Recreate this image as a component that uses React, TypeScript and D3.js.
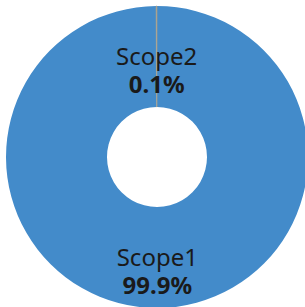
import { useEffect, useRef } from "react";
import * as d3 from "d3";

const categories = ["Scope1", "Scope2"];
const shares = [99.9, 0.1];
const colors = ["#438bca", "#a8a08a"];

export default function App() {
  const svgRef = useRef<SVGSVGElement>(null);

  useEffect(() => {
    if (!svgRef.current) return;
    d3.select(svgRef.current).selectAll("*").remove();

    const width = 305;
    const height = 307;
    const cx = 157;
    const cy = 157;
    const outerRadius = 151;
    const innerRadius = 50;

    const data = categories.map((name, i) => ({ name, value: shares[i] }));

    const pie = d3
      .pie<{ name: string; value: number }>()
      .value((d) => d.value);
    const arc = d3
      .arc<d3.PieArcDatum<{ name: string; value: number }>>()
      .innerRadius(innerRadius)
      .outerRadius(outerRadius);

    const svg = d3
      .select(svgRef.current)
      .attr("width", width)
      .attr("height", height);

    const g = svg.append("g").attr("transform", `translate(${cx},${cy})`);
    const arcs = pie(data);

    g.selectAll("path")
      .data(arcs)
      .enter()
      .append("path")
      .attr("d", arc)
      .attr("fill", (_d, i) => colors[i])
      .attr("stroke", (_d, i) => (i === 1 ? colors[i] : "none"))
      .attr("stroke-width", 0.6);

    // Labels
    const labels = g
      .selectAll("text")
      .data(arcs)
      .enter()
      .append("text")
      .attr("transform", (d) => `translate(${arc.centroid(d)})`)
      .attr("text-anchor", "middle")
      .style("font-family", "'Noto Sans', sans-serif")
      .style("font-size", "24px")
      .attr("fill", "#1a1a1a");

    labels
      .append("tspan")
      .attr("x", 0)
      .attr("dy", "0.36em")
      .text((d) => d.data.name);

    labels
      .append("tspan")
      .attr("x", 0)
      .attr("dy", "1.16em")
      .style("font-weight", "bold")
      .text((d) => `${d.data.value}%`);
  }, []);

  return (
    <svg
      ref={svgRef}
      style={{ position: "absolute", left: 0, top: 0, display: "block" }}
    ></svg>
  );
}
